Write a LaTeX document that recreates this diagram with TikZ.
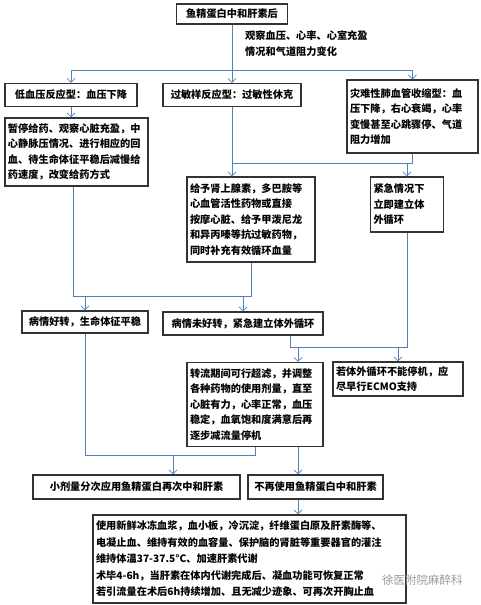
\documentclass[tikz,border=0pt]{standalone}
\usepackage{fontspec}
\setmainfont{Noto Sans CJK SC}
\usetikzlibrary{arrows.meta}
\definecolor{lnblue}{RGB}{79,129,189}
\begin{document}
\begin{tikzpicture}[x=1pt,y=-1pt,
  bx/.style={draw=black!80, line width=1.2pt, fill=white, inner sep=3pt,
    font=\fontsize{10.2}{15.5}\selectfont\bfseries, align=left},
  bc/.style={bx, align=center},
  ln/.style={draw=lnblue, line width=0.9pt},
  arr/.style={ln, -{Straight Barb[length=4pt,width=8pt,line width=0.8pt]}}
]
\useasboundingbox (0,0) rectangle (481,605);

\node[bc, minimum width=111pt, minimum height=20pt] (top) at (232,14) {鱼精蛋白中和肝素后};
\node[font=\fontsize{10.2}{16}\selectfont\bfseries, align=left, anchor=north west, inner sep=0pt] (lbl) at (245,30) {观察血压、心率、心室充盈\\情况和气道阻力变化};

\node[bc, minimum width=132pt, minimum height=23pt] (box1) at (71,95) {低血压反应型：血压下降};
\node[bc, minimum width=138pt, minimum height=23pt] (box2) at (232,95) {过敏样反应型：过敏性休克};
\node[bx, text width=125pt, minimum height=73pt] (box3) at (412.5,116.5) {灾难性肺血管收缩型：血\\压下降，右心衰竭，心率\\变慢甚至心跳骤停、气道\\阻力增加};

\node[bx, text width=137pt, minimum height=68pt] (box1b) at (76.5,152) {暂停给药、观察心脏充盈，中\\心静脉压情况、进行相应的回\\血、待生命体征平稳后减慢给\\药速度，改变给药方式};
\node[bx, text width=122pt, minimum height=85pt] (box2b) at (251,219.5) {给予肾上腺素，多巴胺等\\心血管活性药物或直接\\按摩心脏、给予甲泼尼龙\\和异丙嗪等抗过敏药物，\\同时补充有效循环血量};
\node[bx, text width=67pt, minimum height=55pt] (box3b) at (407,204.5) {紧急情况下\\立即建立体\\外循环};

\node[bc, minimum width=126pt, minimum height=22pt] (good) at (85,322) {病情好转，生命体征平稳};
\node[bc, minimum width=160pt, minimum height=23pt] (notgood) at (243,323.5) {病情未好转，紧急建立体外循环};

\node[bx, text width=130pt, minimum height=84pt] (zhuanliu) at (255,404.5) {转流期间可行超滤，并调整\\各种药物的使用剂量，直至\\心脏有力，心率正常，血压\\稳定，血氧饱和度满意后再\\逐步减流量停机};
\node[bx, text width=124pt, minimum height=34pt] (ecmo) at (398,379) {若体外循环不能停机，应\\尽早行ECMO支持};

\node[bc, minimum width=207pt, minimum height=24pt] (small) at (136.5,487) {小剂量分次应用鱼精蛋白再次中和肝素};
\node[bc, minimum width=135pt, minimum height=24pt] (nomore) at (315.5,487) {不再使用鱼精蛋白中和肝素};

\node[bx, text width=307pt, minimum height=88pt, font=\fontsize{10.2}{16.5}\selectfont\bfseries] (bottom) at (249.5,559) {使用新鲜冰冻血浆，血小板，冷沉淀，纤维蛋白原及肝素酶等、\\电凝止血、维持有效的血容量、保护脑的肾脏等重要器官的灌注\\维持体温37-37.5°C、加速肝素代谢\\术毕4-6h，当肝素在体内代谢完成后、凝血功能可恢复正常\\若引流量在术后6h持续增加、且无减少迹象、可再次开胸止血};

\node[font=\fontsize{11.5}{12}\selectfont, text=black!40, anchor=west, inner sep=0pt] (wm) at (382,580) {徐医附院麻醉科};

% connectors
\coordinate (j1) at (232,70);
\draw[ln] (top.south) -- (j1);
\draw[ln] (box1.north |- j1) -- (box3.north |- j1);
\draw[arr] (box1.north |- j1) -- (box1.north);
\draw[arr] (j1) -- (box2.north);
\draw[arr] (box3.north |- j1) -- (box3.north);
\draw[arr] (box1.south) -- (box1.south |- box1b.north);

\coordinate (j2) at (232,163);
\draw[ln] (box2.south) -- (j2) -- (box3.south |- j2) -- (box3.south);
\draw[arr] (j2) -- (j2 |- box2b.north);
\draw[arr] (box3b.north |- j2) -- (box3b.north);

\coordinate (j4) at (73,296);
\draw[ln] (box1b.south -| j4) -- (j4) -- (box2b.south |- j4) -- (box2b.south);
\draw[arr] (good.north |- j4) -- (good.north);
\draw[arr] (notgood.north |- j4) -- (notgood.north);

\coordinate (k1) at (290,347);
\coordinate (k3) at (298,347);
\draw[ln] (notgood.south -| k1) -- (k1) -- (box3b.south |- k1) -- (box3b.south);
\draw[arr] (ecmo.north |- k1) -- (ecmo.north);
\draw[arr] (k3) -- (k3 |- zhuanliu.north);

\coordinate (m0) at (85,455);
\coordinate (m1) at (173,455);
\draw[ln] (good.south) -- (good.south |- m0) -- (zhuanliu.south |- m0) -- (zhuanliu.south);
\draw[arr] (m1) -- (m1 |- small.north);
\draw[arr] (k3 |- zhuanliu.south) -- (k3 |- nomore.north);
\draw[arr] (k3 |- nomore.south) -- (k3 |- bottom.north);
\end{tikzpicture}
\end{document}
